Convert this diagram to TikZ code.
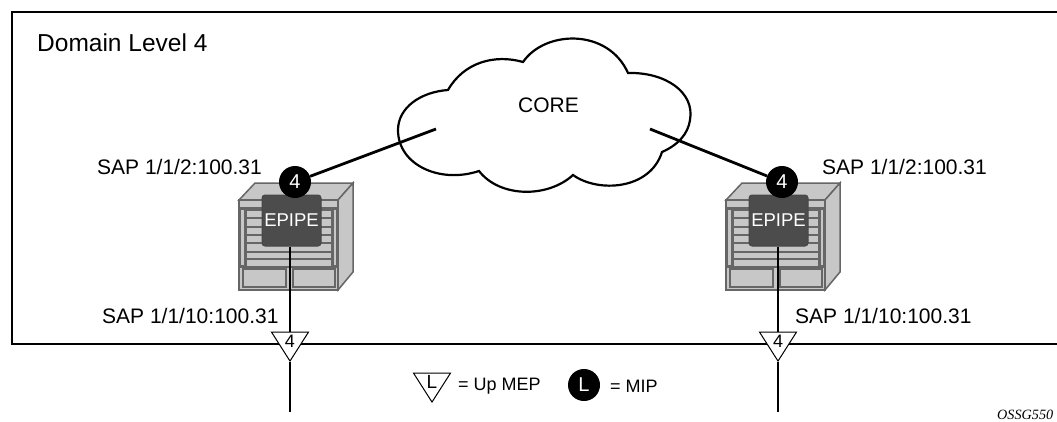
\documentclass[tikz,border=0pt]{standalone}
\usepackage{fontspec}
\setmainfont{Liberation Sans}
\newfontfamily\tagfont{Liberation Serif}
\usepackage{tikz}
\usetikzlibrary{shapes.geometric}

\tikzset{
	wire/.style={line width=2.8pt, color=black},
	lbl/.style={anchor=west, inner sep=0pt, font=\fontsize{21}{24}\selectfont},
	mip/.style={circle, fill=black, text=white, minimum size=32pt, inner sep=0pt, font=\fontsize{20}{24}\selectfont},
	mep/.style={isosceles triangle, isosceles triangle apex angle=65, isosceles triangle stretches, shape border rotate=270,
		draw=black, fill=white, line width=1pt, minimum width=37pt, minimum height=29pt, inner sep=0pt, anchor=apex},
	epipebox/.style={rectangle, rounded corners=3pt, draw=black!72, fill=black!70, line width=1pt, text=white,
		minimum width=59pt, minimum height=51pt, inner sep=0pt, font=\fontsize{18.5}{22}\selectfont},
	part/.style={draw=black!60, fill=black!22, line width=1.5pt},
	router/.pic={
		\draw[part] (0, 0) -- (16, -17) -- (114, -17) -- (99, 0) -- cycle;
		\draw[part] (99, 0) -- (114, -17) -- (114, 72) -- (99, 90) -- cycle;
		\draw[part] (0, 0) rectangle (99, 90);
		\draw[part] (0, 8) -- (99, 8);
		\draw[part] (1, 9) rectangle (6, 66);
		\draw[part] (94, 9) rectangle (98, 66);
		\foreach \slat/\nxt in {10/18, 18/27, 27/35, 35/43, 43/52, 52/59, 59/67} {
			\draw[part] (7, \slat) rectangle (93, \nxt);
		}
		\draw[part] (0, 67) -- (99, 67);
		\draw[part] (4, 69) rectangle (47, 87);
		\draw[part] (54, 69) rectangle (96, 87);
	}
}

\begin{document}
\begin{tikzpicture}[x=1pt, y=-1pt]
	\useasboundingbox (0, 0) rectangle (1057, 421);
	
	\draw[wire] (1058, 12) -- (12, 12) -- (12, 344) -- (1058, 344);
	\node[lbl, font=\fontsize{24.5}{28}\selectfont] (domainlabel) at (37, 43) {Domain Level 4};
	
	% cloud
	\draw[line width=2.2pt, fill=white]
		(448, 90) .. controls (464, 62) and (495, 54) .. (523, 62)
		.. controls (545, 30) and (608, 28) .. (628, 73)
		.. controls (665, 72) and (695, 92) .. (690, 120)
		.. controls (688, 134) and (678, 145) .. (662, 152)
		.. controls (650, 190) and (598, 193) .. (573, 175)
		.. controls (548, 198) and (500, 198) .. (479, 171)
		.. controls (440, 184) and (398, 165) .. (398, 130)
		.. controls (398, 108) and (420, 92) .. (448, 90) -- cycle;
	\node[font=\fontsize{21}{24}\selectfont, inner sep=0pt] (corelabel) at (548.5, 105) {CORE};
	
	\coordinate (coreleft) at (436, 129);
	\coordinate (coreright) at (650, 129);
	\coordinate (endleft) at (290, 412);
	\coordinate (endright) at (778, 412);
	
	\pic at (239, 200) {router};
	\pic at (726, 200) {router};
	
	\node[epipebox] (epipeleft) at (291.5, 220.5) {EPIPE};
	\node[epipebox] (epiperight) at (778.5, 220.5) {EPIPE};
	
	\node[mip] (mipleft) at (295, 182) {4};
	\node[mip] (mipright) at (782, 182) {4};
	
	\draw[wire] (coreleft) -- (mipleft);
	\draw[wire] (coreright) -- (mipright);
	
	\node[mep, font=\fontsize{18}{20}\selectfont] (mepleft) at (290, 362) {4};
	\node[mep, font=\fontsize{18}{20}\selectfont] (mepright) at (778, 362) {4};
	
	\draw[wire] (epipeleft.south -| mepleft.apex) -- (mepleft.lower side);
	\draw[wire] (epiperight.south -| mepright.apex) -- (mepright.lower side);
	\draw[wire] (mepleft.apex) -- (endleft);
	\draw[wire] (mepright.apex) -- (endright);
	
	\node[lbl] (sapleftup) at (97, 167) {SAP 1/1/2:100.31};
	\node[lbl] (saprightup) at (822, 167) {SAP 1/1/2:100.31};
	\node[lbl] (sapleftdown) at (102, 316) {SAP 1/1/10:100.31};
	\node[lbl] (saprightdown) at (795, 316) {SAP 1/1/10:100.31};
	
	% legend
	\node[mep, font=\fontsize{19}{20}\selectfont] (legendmep) at (432, 403) {L};
	\node[lbl, font=\fontsize{18}{20}\selectfont] (legendup) at (458, 386) {= Up MEP};
	\node[mip] (legendmip) at (584, 385) {L};
	\node[lbl, font=\fontsize{18}{20}\selectfont] (legendmiplabel) at (610, 386) {= MIP};
	
	\node[anchor=west, inner sep=0pt, font=\tagfont\itshape\fontsize{14.2}{18}\selectfont] (taglabel) at (997, 415) {OSSG550};
\end{tikzpicture}
\end{document}
